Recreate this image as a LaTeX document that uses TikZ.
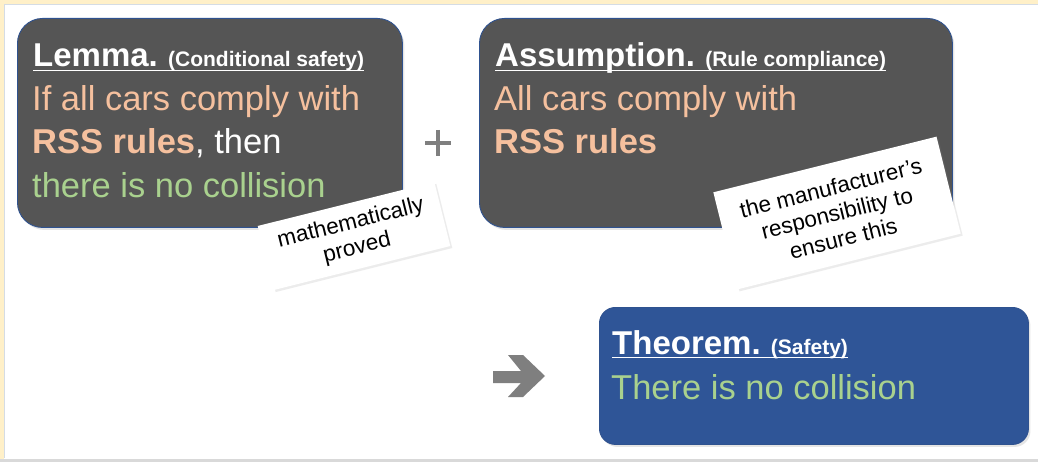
\documentclass[tikz,border=0pt]{standalone}
\usepackage{fontspec}
\setmainfont{Liberation Sans}
\usetikzlibrary{shadows}
\definecolor{boxgrey}{HTML}{555555}
\definecolor{boxblue}{HTML}{2F5597}
\definecolor{edgeblue}{HTML}{2F528F}
\definecolor{peach}{HTML}{F5C09E}
\definecolor{softgreen}{HTML}{A9D18E}
\definecolor{signgrey}{HTML}{7F7F7F}
\definecolor{framey}{HTML}{FFF0C8}
\definecolor{framegrey}{HTML}{D5DCE4}
\definecolor{bottomgrey}{HTML}{D9D9D9}
\tikzset{
  panel/.style={draw=edgeblue, line width=0.9pt, anchor=north west, inner sep=0pt,
    drop shadow={opacity=0.2, shadow xshift=2pt, shadow yshift=-2.5pt}},
  greypanel/.style={panel, fill=boxgrey, rounded corners=25pt},
  bluepanel/.style={panel, fill=boxblue, rounded corners=16pt},
  headtext/.style={anchor=base west, inner sep=0pt, text=white, font=\bfseries\fontsize{33}{33}\selectfont},
  bodytext/.style={anchor=base west, inner sep=0pt, font=\fontsize{34.5}{40}\selectfont},
  uline/.style={white, line width=1.8pt},
  notecard/.style={fill=white, rotate=14, align=center, inner sep=0pt,
    font=\fontsize{22.5}{26}\selectfont,
    drop shadow={opacity=0.15, shadow xshift=2pt, shadow yshift=-2pt}},
}
\newcommand{\subhead}[1]{\hspace{-2pt}{\fontsize{21}{20}\selectfont #1}}
\begin{document}
\begin{tikzpicture}[x=1pt, y=-1pt]
\useasboundingbox (0,0) rectangle (1038,462);
% frame
\fill[white] (0,0) rectangle (1038,462);
\fill[framey] (0,0) rectangle (1038,4);
\fill[framey] (0,0) rectangle (4,462);
\draw[framegrey, line width=1pt] (4.5,458) -- (4.5,4.5) -- (1038,4.5);
\fill[bottomgrey] (0,459) rectangle (1038,462);

% panels
\node[greypanel, minimum width=385pt, minimum height=209pt] (lemma) at (17,18) {};
\node[greypanel, minimum width=473pt, minimum height=209pt] (assume) at (479,18) {};
\node[bluepanel, minimum width=429pt, minimum height=137pt] (theorem) at (599,307) {};

% lemma text
\node[headtext] (lemH) at (33,67) {Lemma. \subhead{(Conditional safety)}};
\draw[uline] ([yshift=-3.5pt]lemH.base west) -- ([yshift=-3.5pt]lemH.base east);
\node[bodytext, text=peach] (lem1) at (32,111) {If all cars comply with};
\node[bodytext, text=white] (lem2) at (32,154) {\textcolor{peach}{\bfseries RSS rules}, then};
\node[bodytext, text=softgreen] (lem3) at (32,198) {there is no collision};

% assumption text
\node[headtext] (asmH) at (495,67) {Assumption. \subhead{(Rule compliance)}};
\draw[uline] ([yshift=-3.5pt]asmH.base west) -- ([yshift=-3.5pt]asmH.base east);
\node[bodytext, text=peach] (asm1) at (494,111) {All cars comply with};
\node[bodytext, text=peach] (asm2) at (494,154) {\bfseries RSS rules};

% theorem text
\node[headtext] (thmH) at (612,354) {Theorem. \subhead{(Safety)}};
\draw[uline] ([yshift=-3.5pt]thmH.base west) -- ([yshift=-3.5pt]thmH.base east);
\node[bodytext, text=softgreen] (thm1) at (611,399) {There is no collision};

% plus sign
\draw[signgrey, line width=4pt] (425,143) -- (451,143) (438,130) -- (438,156);

% block arrow
\fill[signgrey] (493,371) -- (521,371) -- (508,355) -- (523,355) -- (545,376)
  -- (523,397) -- (508,397) -- (521,383) -- (493,383) -- cycle;

% notes
\node[notecard, minimum width=182pt, minimum height=66pt] (note1) at (354,236)
  {mathematically\\proved};
\node[notecard, minimum width=230pt, minimum height=100pt] (note2) at (837,213)
  {the manufacturer’s\\responsibility to\\ensure this};
\end{tikzpicture}
\end{document}
